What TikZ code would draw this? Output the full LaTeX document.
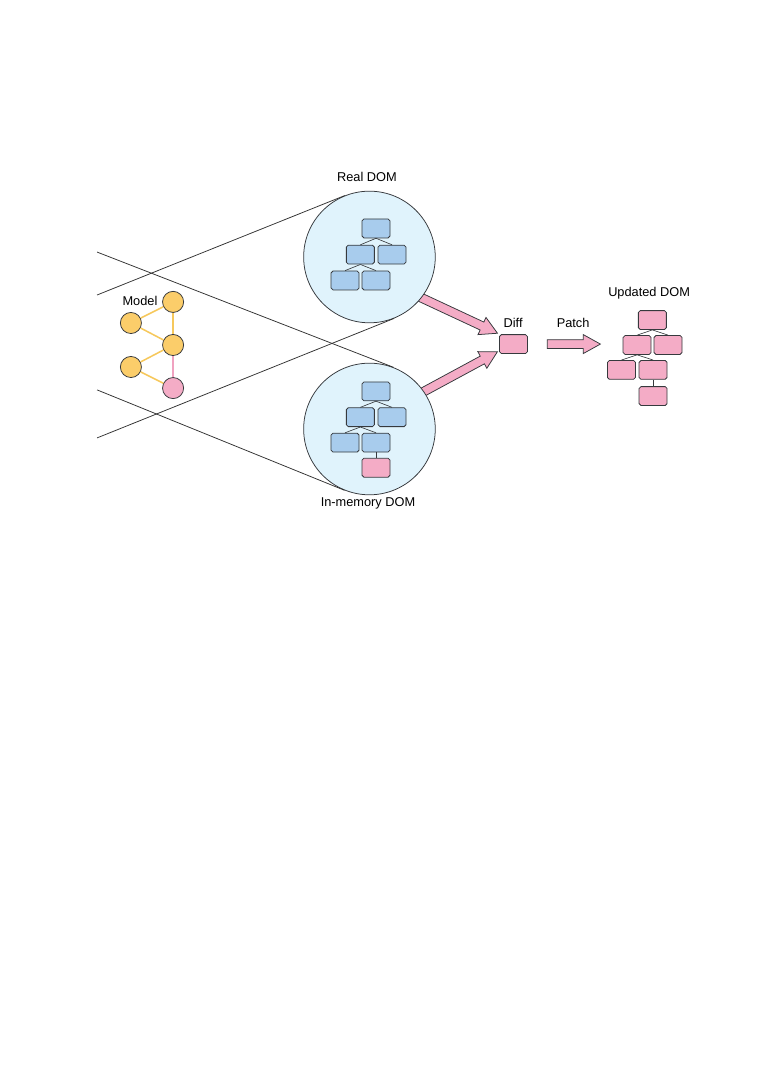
\documentclass[tikz,border=0pt]{standalone}
\usepackage{fontspec}
\setmainfont{Liberation Sans}
\usetikzlibrary{calc, shapes.arrows}

\definecolor{circlefill}{RGB}{224,243,252}
\definecolor{bluefill}{RGB}{168,204,237}
\definecolor{pinkfill}{RGB}{244,172,198}
\definecolor{yellowfill}{RGB}{251,205,106}
\definecolor{yellowline}{RGB}{246,200,92}
\definecolor{pinkline}{RGB}{240,162,192}
\definecolor{darkline}{RGB}{54,57,61}

\begin{document}
\begin{tikzpicture}
  \tikzstyle{dom_circle} = [circle, draw=darkline, fill=circlefill, minimum size = 3.62cm, inner sep = 0, line width = 0.6pt]
  \tikzstyle{blue_box} = [rectangle, rounded corners = 1.5pt, draw=darkline, fill=bluefill, minimum height = 5.2mm, minimum width = 7.7mm, inner sep = 0, line width = 0.6pt]
  \tikzstyle{pink_box} = [blue_box, fill=pinkfill]
  \tikzstyle{model_node} = [circle, draw=darkline, fill=yellowfill, minimum size = 5.8mm, inner sep = 0, line width = 0.6pt]
  \tikzstyle{fat_arrow} = [single arrow, draw=darkline, fill=pinkfill, inner xsep = 0, inner ysep = 1.1mm, single arrow head extend = 1.4mm, single arrow tip angle = 58, anchor = tail, line width = 0.6pt]
  \tikzstyle{tree_edge} = [-, draw=darkline, line width = 0.5pt]
  \tikzstyle{model_edge} = [-, draw=yellowline, line width = 1.2pt]
  \tikzstyle{cross_line} = [-, draw=black!80, line width = 0.6pt]
  \tikzstyle{label} = [font = \fontsize{10}{12}\selectfont]

  \useasboundingbox (0,0) rectangle (20.93,29.5625);

  % pink arrows go under the circles
  \node [fat_arrow, rotate = -25, minimum height = 2.55cm] at (11.36, 21.48) (real_arrow) {};
  \node [fat_arrow, rotate = 28.4, minimum height = 2.59cm] at (11.39, 18.65) (memory_arrow) {};

  \node [dom_circle] at (10.16, 22.495) (real_dom) {};
  \node [dom_circle] at (10.16, 17.765) (memory_dom) {};
  \node [label] at (10.09, 24.695) {Real DOM};
  \node [label] at (10.12, 15.73) {In-memory DOM};

  % left end points of the crossing lines
  \coordinate (l1) at (2.67, 22.63);
  \coordinate (l2) at (2.67, 21.45);
  \coordinate (l3) at (2.67, 18.84);
  \coordinate (l4) at (2.67, 17.52);

  \draw[cross_line] (l1) to (tangent cs:node=memory_dom, point={(l1)}, solution=2);
  \draw[cross_line] (l2) to (tangent cs:node=real_dom, point={(l2)}, solution=2);
  \draw[cross_line] (l3) to (tangent cs:node=memory_dom, point={(l3)}, solution=1);
  \draw[cross_line] (l4) to (tangent cs:node=real_dom, point={(l4)}, solution=1);

  % model
  \node [label] at (3.85, 21.285) (model) {Model};
  \node [model_node] at (4.76, 21.26) (m1) {};
  \node [model_node] at (3.60, 20.68) (m2) {};
  \node [model_node] at (4.76, 20.075) (m3) {};
  \node [model_node] at (3.60, 19.47) (m4) {};
  \node [model_node, fill=pinkfill] at (4.76, 18.89) (m5) {};

  \draw[model_edge] (m1) to (m2);
  \draw[model_edge] (m1) to (m3);
  \draw[model_edge] (m2) to (m3);
  \draw[model_edge] (m3) to (m4);
  \draw[model_edge] (m4) to (m5);
  \draw[model_edge, draw=pinkline] (m3) to (m5);

  % real dom tree
  \node [blue_box] at (10.34, 23.28) (r1) {};
  \node [blue_box] at (9.91, 22.56) (r2) {};
  \node [blue_box] at (10.78, 22.56) (r3) {};
  \node [blue_box] at (9.49, 21.85) (r4) {};
  \node [blue_box] at (10.34, 21.85) (r5) {};

  \draw[tree_edge] (r1.south) to (r2.north);
  \draw[tree_edge] (r1.south) to (r3.north);
  \draw[tree_edge] (r2.south) to (r4.north);
  \draw[tree_edge] (r2.south) to (r5.north);

  % in-memory dom tree
  \node [blue_box] at (10.34, 18.80) (i1) {};
  \node [blue_box] at (9.91, 18.09) (i2) {};
  \node [blue_box] at (10.78, 18.09) (i3) {};
  \node [blue_box] at (9.49, 17.39) (i4) {};
  \node [blue_box] at (10.34, 17.39) (i5) {};
  \node [pink_box] at (10.34, 16.70) (i6) {};

  \draw[tree_edge] (i1.south) to (i2.north);
  \draw[tree_edge] (i1.south) to (i3.north);
  \draw[tree_edge] (i2.south) to (i4.north);
  \draw[tree_edge] (i2.south) to (i5.north);
  \draw[tree_edge] (i5.south) to (i6.north);

  % diff and patch
  \node [pink_box] at (14.12, 20.10) (diff) {};
  \node [label] at (14.11, 20.68) {Diff};
  \node [fat_arrow, minimum height = 1.46cm] at (15.04, 20.10) (patch_arrow) {};
  \node [label] at (15.76, 20.68) {Patch};

  % updated dom tree
  \node [label] at (17.85, 21.505) {Updated DOM};
  \node [pink_box] at (17.94, 20.76) (u1) {};
  \node [pink_box] at (17.52, 20.075) (u2) {};
  \node [pink_box] at (18.37, 20.075) (u3) {};
  \node [pink_box] at (17.09, 19.39) (u4) {};
  \node [pink_box] at (17.96, 19.39) (u5) {};
  \node [pink_box] at (17.96, 18.67) (u6) {};

  \draw[tree_edge] (u1.south) to (u2.north);
  \draw[tree_edge] (u1.south) to (u3.north);
  \draw[tree_edge] (u2.south) to (u4.north);
  \draw[tree_edge] (u2.south) to (u5.north);
  \draw[tree_edge] (u5.south) to (u6.north);
\end{tikzpicture}
\end{document}
